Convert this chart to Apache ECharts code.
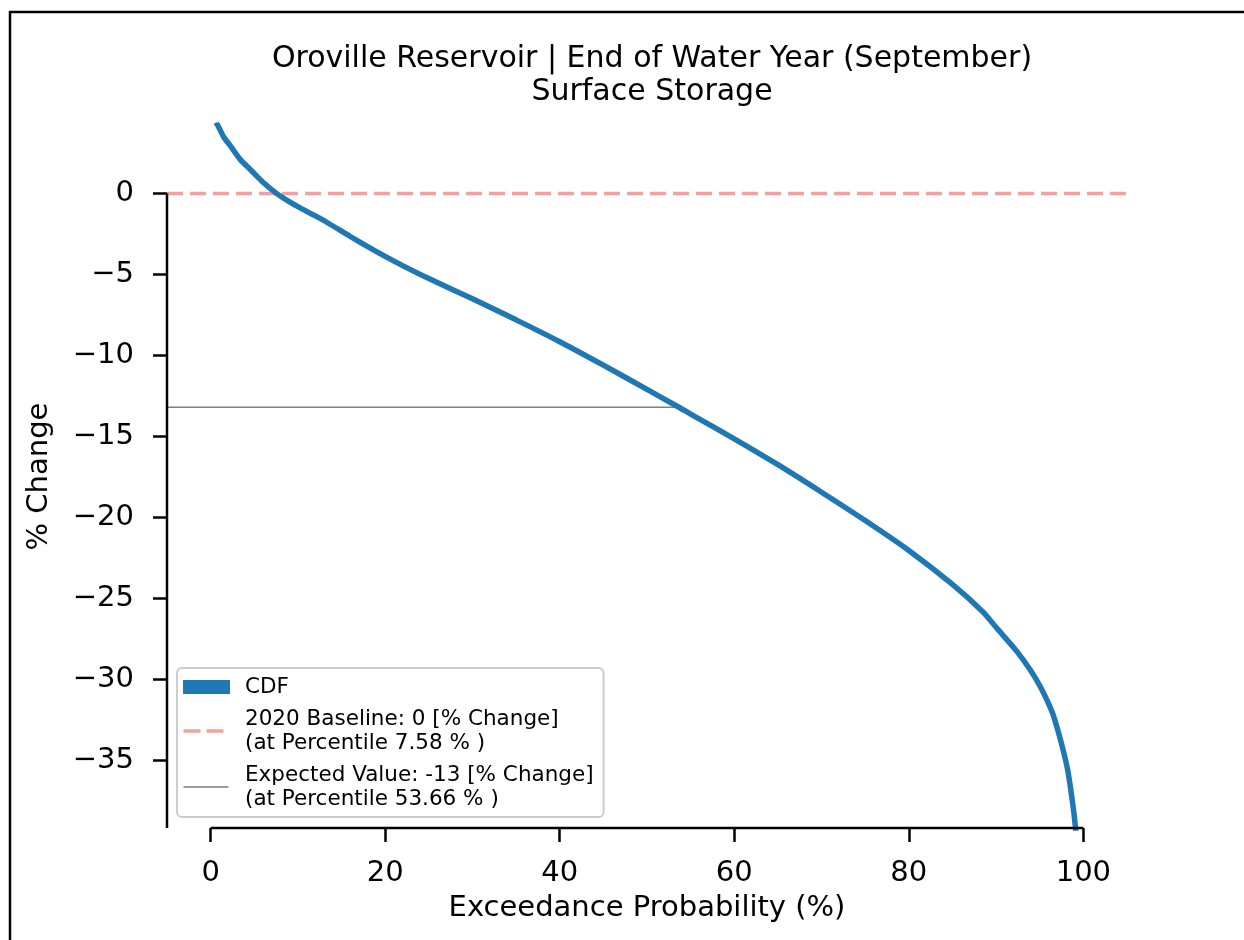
<!DOCTYPE html>
<html>
<head>
<meta charset="utf-8">
<script src="https://cdn.jsdelivr.net/npm/echarts@6/dist/echarts.min.js"></script>
<style>
html,body{margin:0;padding:0;background:#fff;}
#c{width:1244px;height:940px;}
</style>
</head>
<body>
<div id="c"></div>
<script>
// ---- data ----
const cdfX = [0.6, 0.8, 1.5, 2.3, 3.4, 4.6, 6.0, 7.58, 9.0, 10.3, 12.0, 13.4, 16.0, 18.0, 20, 22, 25, 30, 35, 40, 45, 50, 53.66, 55, 60, 65, 70, 75, 80, 85, 88.5, 90, 92.4, 94, 95.1, 96, 96.6, 97.5, 98.2, 98.6, 98.9, 99.1, 99.3];
const cdfY = [4.4, 4.24, 3.5, 2.92, 2.1, 1.46, 0.7, 0, -0.5, -0.9, -1.38, -1.8, -2.65, -3.28, -3.88, -4.45, -5.25, -6.5, -7.8, -9.15, -10.6, -12.1, -13.2, -13.62, -15.15, -16.75, -18.45, -20.2, -22.05, -24.15, -25.85, -26.8, -28.3, -29.5, -30.5, -31.5, -32.3, -34.0, -35.6, -37.0, -38.2, -39.2, -40.5];
const baselineValue = 0;
const baselinePct = 7.58;
const expectedValue = -13.2;
const expectedLabel = -13;
const expectedPct = 53.66;
const xTicks = [0, 20, 40, 60, 80, 100];
const yTicks = [0, -5, -10, -15, -20, -25, -30, -35];
const xLimits = [-5, 105];
const yLimits = [-39.2, 4.24];
const titleLines = ['Oroville Reservoir | End of Water Year (September)', 'Surface Storage'];
const xName = 'Exceedance Probability (%)';
const yName = '% Change';
const legendNames = ['CDF',
  '2020 Baseline: ' + baselineValue + ' [% Change]\n(at Percentile ' + baselinePct + ' % )',
  'Expected Value: ' + expectedLabel + ' [% Change]\n(at Percentile ' + expectedPct + ' % )'];

const FONT = 'DejaVu Sans';
const minusFmt = v => String(v).replace('-', '\u2212');

const chart = echarts.init(document.getElementById('c'), null, {renderer: 'canvas'});
const option = {
  backgroundColor: '#fff',
  animation: false,
  title: {
    text: titleLines.join('\n'),
    left: 647, top: 38, textAlign: 'center',
    textStyle: {fontFamily: FONT, fontWeight: 'normal', fontSize: 30, lineHeight: 33, color: '#000'}
  },
  grid: {left: 167, right: 117, top: 125, bottom: 112, containLabel: false},
  legend: {
    left: 177, top: 668, orient: 'vertical',
    backgroundColor: '#fff', borderColor: '#cccccc', borderWidth: 2, borderRadius: 5,
    padding: [7, 10, 6, 6], itemGap: 8, itemWidth: 47, itemHeight: 14,
    textStyle: {fontFamily: FONT, fontSize: 21.5, lineHeight: 24, color: '#000', padding: [0, 0, 0, 10]},
    data: [
      {name: legendNames[0], icon: 'rect', itemStyle: {color: '#1f77b4'}},
      {name: legendNames[1], icon: 'path://M0,0h17v3.5h-17z M23,0h17v3.5h-17z M0,-5.25h0.01v0.01h-0.01z M0,8.75h0.01v0.01h-0.01z M46,0h0.01v0.01h-0.01z', itemStyle: {color: '#f4a0a0'}},
      {name: legendNames[2], icon: 'path://M0,0h45v1.5h-45z M0,-6.25h0.01v0.01h-0.01z M0,7.75h0.01v0.01h-0.01z M46,0h0.01v0.01h-0.01z', itemStyle: {color: '#7f7f7f'}}
    ]
  },
  xAxis: {
    type: 'value', min: xLimits[0], max: xLimits[1],
    name: xName, nameLocation: 'middle', nameGap: 66,
    nameTextStyle: {fontFamily: FONT, fontSize: 29, color: '#000'},
    axisLine: {show: false, onZero: false},
    axisTick: {show: true, customValues: xTicks, length: 14, lineStyle: {color: '#000', width: 2.5}},
    axisLabel: {customValues: xTicks, fontFamily: FONT, fontSize: 29, color: '#000', margin: 31, formatter: minusFmt},
    splitLine: {show: false}
  },
  yAxis: {
    type: 'value', min: yLimits[0], max: yLimits[1],
    name: yName, nameLocation: 'middle', nameGap: 113, nameRotate: 90,
    nameTextStyle: {fontFamily: FONT, fontSize: 29, color: '#000'},
    axisLine: {show: false, onZero: false},
    axisTick: {show: true, customValues: yTicks, length: 14, lineStyle: {color: '#000', width: 2.5}},
    axisLabel: {customValues: yTicks, fontFamily: FONT, fontSize: 29, color: '#000', margin: 33, formatter: minusFmt},
    splitLine: {show: false}
  },
  graphic: [
    {type: 'line', shape: {x1: 9, y1: 12, x2: 1244, y2: 12}, style: {stroke: '#000', lineWidth: 2.5}, z: 100},
    {type: 'line', shape: {x1: 10, y1: 11, x2: 10, y2: 940}, style: {stroke: '#000', lineWidth: 2.5}, z: 100}
  ],
  series: [
    {
      name: legendNames[0], type: 'line', showSymbol: false, symbol: 'none', z: 5,
      smooth: 0.25,
      data: cdfX.map((x, i) => [x, cdfY[i]]),
      lineStyle: {color: '#1f77b4', width: 5.5}, itemStyle: {color: '#1f77b4'}
    },
    {
      name: legendNames[1], type: 'line', showSymbol: false, symbol: 'none', z: 4,
      data: [[xLimits[0], baselineValue], [xLimits[1], baselineValue]],
      lineStyle: {color: '#f4a0a0', width: 3.5, type: [16, 7]}, itemStyle: {color: '#f4a0a0'}
    },
    {
      name: legendNames[2], type: 'line', showSymbol: false, symbol: 'none', z: 3,
      data: [[xLimits[0], expectedValue], [expectedPct, expectedValue]],
      lineStyle: {color: '#7f7f7f', width: 1.5}, itemStyle: {color: '#7f7f7f'}
    },
    {
      type: 'line', showSymbol: false, symbol: 'none', silent: true, clip: false, z: 6,
      data: [[xLimits[0], yTicks[0]], [xLimits[0], yLimits[0]]],
      lineStyle: {color: '#000', width: 2.5}, legendHoverLink: false
    },
    {
      type: 'line', showSymbol: false, symbol: 'none', silent: true, clip: false, z: 6,
      data: [[xTicks[0], yLimits[0]], [xTicks[xTicks.length - 1], yLimits[0]]],
      lineStyle: {color: '#000', width: 2.5}, legendHoverLink: false
    }
  ]
};
chart.setOption(option);
</script>
</body>
</html>
